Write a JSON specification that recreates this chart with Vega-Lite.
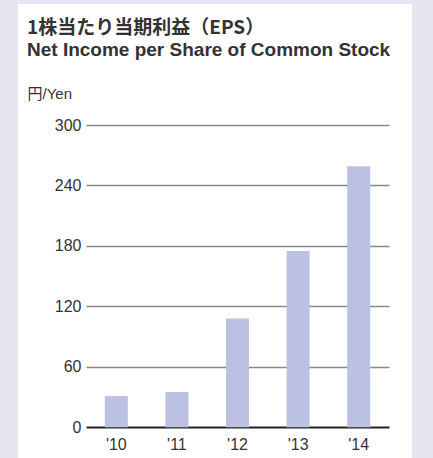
{
  "$schema": "https://vega.github.io/schema/vega-lite/v6.json",
  "width": 394,
  "height": 454,
  "autosize": {"type": "none"},
  "padding": {"left": 18, "top": 4, "right": 21, "bottom": 0},
  "background": "#e6e6f2",
  "view": {"fill": "#ffffff", "stroke": null},
  "title": {
    "text": "1株当たり当期利益（EPS）",
    "subtitle": "Net Income per Share of Common Stock",
    "anchor": "start",
    "frame": "group",
    "orient": "top",
    "offset": -56,
    "dx": 9,
    "font": "Noto Sans CJK JP",
    "fontSize": 19,
    "fontWeight": "bold",
    "color": "#333333",
    "subtitleFont": "Liberation Sans",
    "subtitleFontSize": 19,
    "subtitleFontWeight": "bold",
    "subtitleColor": "#333333",
    "subtitlePadding": 3
  },
  "data": {
    "values": [
      {"year": "'10", "eps": 31},
      {"year": "'11", "eps": 35},
      {"year": "'12", "eps": 108},
      {"year": "'13", "eps": 175},
      {"year": "'14", "eps": 259}
    ]
  },
  "mark": {"type": "bar", "color": "#bcc0e2"},
  "encoding": {
    "x": {
      "field": "year",
      "type": "nominal",
      "sort": null,
      "scale": {"range": [68, 371], "paddingInner": 0.62, "paddingOuter": 0.31},
      "axis": {
        "orient": "bottom",
        "offset": -31,
        "domain": false,
        "ticks": false,
        "grid": false,
        "labelAngle": 0,
        "labelPadding": 9,
        "labelFont": "Liberation Sans",
        "labelFontSize": 16,
        "labelColor": "#333333",
        "title": null
      }
    },
    "y": {
      "field": "eps",
      "type": "quantitative",
      "scale": {"domain": [0, 300], "range": [423.3, 121], "nice": false, "zero": true},
      "axis": {
        "values": [0, 60, 120, 180, 240, 300],
        "offset": -68,
        "domain": false,
        "ticks": false,
        "labelPadding": 5,
        "labelFont": "Liberation Sans",
        "labelFontSize": 16,
        "labelColor": "#333333",
        "grid": true,
        "gridDash": [303, 2000],
        "gridColor": {"condition": {"test": "datum.value === 0", "value": "#222222"}, "value": "#8a8a8a"},
        "gridWidth": {"condition": {"test": "datum.value === 0", "value": 2}, "value": 1.5},
        "gridOpacity": 1,
        "zindex": 0,
        "title": "円/Yen",
        "titleAngle": 0,
        "titleX": -59,
        "titleY": 89.5,
        "titleAlign": "left",
        "titleBaseline": "middle",
        "titleFont": "Liberation Sans, Noto Sans CJK JP",
        "titleFontSize": 15,
        "titleFontWeight": "normal",
        "titleColor": "#333333"
      }
    }
  }
}
